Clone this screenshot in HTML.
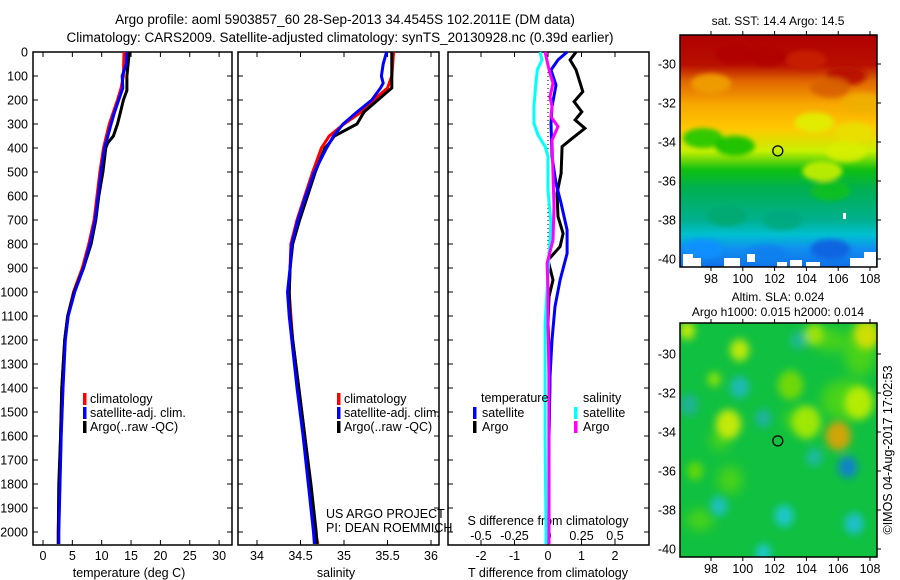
<!DOCTYPE html>
<html><head><meta charset="utf-8">
<style>
html,body{margin:0;padding:0;background:#fff;}
svg{display:block;font-family:"Liberation Sans",sans-serif;}
text{font-size:12.5px;fill:#000;}
</style></head>
<body>
<svg id="chart" width="900" height="580" viewBox="0 0 900 580">
<defs>
<linearGradient id="sstgrad" x1="0" y1="0" x2="0" y2="1">
<stop offset="0" stop-color="#b00000"/>
<stop offset="0.13" stop-color="#b81000"/>
<stop offset="0.2" stop-color="#e06800"/>
<stop offset="0.3" stop-color="#f8a800"/>
<stop offset="0.4" stop-color="#ffc800"/>
<stop offset="0.5" stop-color="#c8f000"/>
<stop offset="0.58" stop-color="#10c010"/>
<stop offset="0.66" stop-color="#00b050"/>
<stop offset="0.8" stop-color="#00b090"/>
<stop offset="0.86" stop-color="#00c0d0"/>
<stop offset="0.92" stop-color="#1090f0"/>
<stop offset="1" stop-color="#1070e8"/>
</linearGradient>
<filter id="blur6" x="-50%" y="-50%" width="200%" height="200%"><feGaussianBlur stdDeviation="6"/></filter>
<filter id="blur3" x="-50%" y="-50%" width="200%" height="200%"><feGaussianBlur stdDeviation="4"/></filter>
<filter id="blur2" x="-50%" y="-50%" width="200%" height="200%"><feGaussianBlur stdDeviation="2.5"/></filter>
<clipPath id="clipTop"><rect x="680" y="35" width="197" height="232"/></clipPath>
<clipPath id="clipBot"><rect x="680" y="323" width="197" height="234"/></clipPath>
</defs>
<g id="titles">
<text x="345" y="24" text-anchor="middle" style="font-size:13.5px">Argo profile: aoml 5903857_60 28-Sep-2013 34.4545S 102.2011E (DM data)</text>
<text x="340" y="42" text-anchor="middle" style="font-size:13.5px">Climatology: CARS2009. Satellite-adjusted climatology: synTS_20130928.nc (0.39d earlier)</text>
</g>
<g id="panels"></g>
<g id="maps"></g>
<text transform="translate(892,450) rotate(-90)" text-anchor="middle" style="font-size:12.5px">©IMOS 04-Aug-2017 17:02:53</text>
</svg>
<script>
// ---------- data ----------
const depthTicks = [0,100,200,300,400,500,600,700,800,900,1000,1100,1200,1300,1400,1500,1600,1700,1800,1900,2000];
const tempTicks = [0,5,10,15,20,25,30];
const salTicks = [34,34.5,35,35.5,36];
const salTickLabels = ["34","34.5","35","35.5","36"];
const tdiffTicks = [-2,-1,0,1,2];
const sdiffTicks = [-0.5,-0.25,0,0.25,0.5];
const sdiffTickLabels = ["-0.5","-0.25","0","0.25","0.5"];

const tClimDepth = [0,100,150,200,250,300,400,500,600,700,800,900,1000,1100,1200,1400,1600,1800,2000,2050];
const tClim      = [13.8,13.7,13.3,12.7,12.0,11.3,10.3,9.7,9.2,8.7,7.8,6.7,5.2,4.2,3.7,3.2,3.0,2.8,2.6,2.6];
const tSatDepth  = [0,50,100,150,200,250,300,400,500,600,700,800,900,1000,1100,1200,1400,1600,1800,2000,2050];
const tSat       = [14.3,14.2,13.5,13.6,12.9,12.2,11.6,10.5,9.9,9.4,8.9,8.0,6.9,5.4,4.3,3.8,3.4,3.1,2.9,2.7,2.7];
const tArgoDepth = [0,50,100,160,200,250,300,350,380,400,500,600,700,800,900,1000,1100,1200,1400,1600,1800,2000,2050];
const tArgo      = [14.7,14.5,14.3,14.3,13.7,13.2,12.7,12.0,11.0,10.7,10.2,9.5,9.0,8.2,6.9,5.3,4.2,3.7,3.2,3.0,2.7,2.6,2.6];

const sClimDepth = [0,100,150,200,250,300,350,400,500,600,700,800,900,1000,1100,1200,1400,1600,1800,2000,2050];
const sClim      = [35.57,35.55,35.50,35.34,35.20,35.00,34.83,34.74,34.64,34.55,34.46,34.39,34.38,34.37,34.39,34.41,34.48,34.55,34.61,34.67,34.70];
const sSatDepth  = [0,50,100,130,150,200,250,300,350,400,500,600,700,800,900,1000,1100,1200,1400,1600,1800,2000,2050];
const sSat       = [35.49,35.45,35.43,35.45,35.42,35.32,35.15,34.99,34.88,34.80,34.66,34.56,34.47,34.40,34.38,34.35,34.37,34.40,34.46,34.53,34.59,34.65,34.66];
const sArgoDepth = [0,150,200,250,300,350,380,400,500,600,700,800,900,1000,1100,1200,1400,1600,1800,2000,2050];
const sArgo      = [35.55,35.55,35.39,35.23,35.15,34.89,34.83,34.78,34.67,34.58,34.49,34.41,34.38,34.37,34.38,34.41,34.48,34.55,34.62,34.68,34.69];

const dTArgoDepth = [0,33,75,165,207,249,283,318,360,394,506,589,686,756,811,867,950,1019,1131,1339,1600,2000,2050];
const dTArgo      = [0.84,0.66,0.84,1.04,0.78,1.01,0.81,1.10,0.72,0.42,0.39,0.27,0.30,0.45,0.36,0.0,0.15,0.03,0.0,0.06,0.03,0.03,0.03];
const dTSatDepth  = [0,33,75,138,228,297,436,547,631,742,839,950,1061,1200,1353,1600,2000,2050];
const dTSat       = [0.57,0.30,0.09,0.24,0.12,0.09,0.12,0.24,0.39,0.57,0.57,0.36,0.21,0.12,0.06,0.03,0.03,0.03];
const dSSatDepth  = [0,33,75,130,228,297,346,394,436,575,714,853,992,1131,1339,1600,2000,2050];
const dSSat       = [-0.06,-0.045,-0.08,-0.09,-0.105,-0.105,-0.075,-0.022,0,0,0.022,0.007,-0.007,-0.022,-0.022,-0.022,-0.015,-0.015];
const dSArgoDepth = [0,55,89,130,186,228,269,311,367,506,644,783,881,992,1131,1339,1600,2000,2050];
const dSArgo      = [-0.022,0,0.015,0.037,0.015,0.03,0.022,0.075,0.03,0.037,0.045,0.037,-0.007,0,0,0.007,0.007,0.007,0.007];

const mapLatTicks = [-30,-32,-34,-36,-38,-40];
const mapLonTicks = [98,100,102,104,106,108];
const floatLon = 102.2011;
const floatLat = -34.4545;
// SLA blobs: lon, lat, radius(deg), colour
const slaBlobLon = [99.8,99.1,106.0,107.3,107.8,104.5,96.5,98.2,103.0,99.8,96.6,101.3,104.5,106.6,98.5,102.6,107.0,101.3,103.5,97.0,104.0];
const slaBlobLat = [-29.8,-33.6,-34.2,-32.5,-29.0,-29.0,-28.8,-31.3,-31.6,-31.7,-32.6,-33.3,-35.3,-35.8,-37.8,-38.3,-38.7,-40.2,-29.3,-36.0,-33.5];
const slaBlobR   = [0.6,0.8,0.8,0.9,0.8,0.6,0.5,0.4,0.8,0.6,0.6,0.5,0.5,0.6,0.55,0.6,0.6,0.5,0.5,0.5,0.9];
const slaBlobC   = ["#d8f000","#e0f000","#f0a000","#c8f000","#e8e000","#b0e800","#d8f000","#a0e800","#80dc00","#20b8c8","#20b0a0","#20b0b0","#20b8b0","#1078e0","#20c0d0","#20c8e0","#20c0e0","#20c8e0","#20b8a0","#70dc00","#b0ec00"];
// SST perturbation blobs (lon, lat, colour)
const sstBlobLon = [99.5,101.5,104.0,106.5,105.5,98.0,104.5,97.5,99.5,106.5,107.0,105.0,99.0,102.5,105.5,97.5,101.5,105.5,107.5];
const sstBlobLat = [-29.5,-29.6,-29.8,-30.6,-31.2,-31.0,-33.0,-33.8,-34.2,-34.5,-33.5,-35.5,-37.8,-38.0,-36.5,-39.5,-39.8,-39.5,-32.0];
const sstBlobC   = ["#b00000","#b00000","#c82000","#b81000","#d86000","#f0a000","#e0f000","#20c800","#10c000","#d8f000","#e8e000","#c8f000","#00a870","#00a880","#10c020","#1090ff","#1080f0","#1060e0","#f0b000"];

// ---------- helpers ----------
const NS = "http://www.w3.org/2000/svg";
function mk(tag, attrs, parent){ const e=document.createElementNS(NS,tag); for(const k in attrs) e.setAttribute(k,attrs[k]); parent.appendChild(e); return e; }
const yTop = 52, yBot = 545;
const yD = d => yTop + d*0.24;
const panelsG = document.getElementById('panels');
const mapsG = document.getElementById('maps');

function drawBox(x0,x1,name,labels){
  const g = mk('g',{},panelsG);
  
  
  const r = mk('rect',{x:x0,y:yTop,width:x1-x0,height:yBot-yTop,fill:'none',stroke:'#000','stroke-width':1.5},g);
  
  
  depthTicks.forEach(d=>{
    const y=yD(d);
    mk('line',{x1:x0,y1:y,x2:x0+5,y2:y,stroke:'#000'},g);
    mk('line',{x1:x1,y1:y,x2:x1-5,y2:y,stroke:'#000'},g);
    if(labels){
      const t = mk('text',{x:x0-5,y:y+4.5,'text-anchor':'end'},g);
      t.textContent = d;
      
      
    }
  });
  return g;
}
function xTicks(g,xs,labs,ylab){
  xs.forEach((x,i)=>{
    mk('line',{x1:x,y1:yBot,x2:x,y2:yBot-5,stroke:'#000'},g);
    mk('line',{x1:x,y1:yTop,x2:x,y2:yTop+5,stroke:'#000'},g);
    if(labs){
      const t = mk('text',{x:x,y:ylab,'text-anchor':'middle'},g);
      t.textContent = labs[i];
      
      
    }
  });
}
function line(g,depths,vals,xf,color,w,name){
  const pts = depths.map((d,i)=> xf(vals[i]).toFixed(1)+','+yD(d).toFixed(1)).join(' ');
  const p = mk('polyline',{points:pts,fill:'none',stroke:color,'stroke-width':w,'stroke-linejoin':'miter'},g);
  
  
  return p;
}
function txt(g,x,y,s,anchor,name,size){
  const t = mk('text',{x:x,y:y,'text-anchor':anchor||'start'},g);
  if(size) t.style.fontSize=size+'px';
  t.textContent = s;
  
  
  return t;
}
function legendMark(g,x,y,color,name){
  const r = mk('rect',{x:x,y:y-6,width:3.5,height:12,fill:color},g);
  
  
}

// ---------- panel 1: temperature ----------
const xT = v => 43 + 5.87*v;
const g1 = drawBox(33,232,'temperature-panel',true);
xTicks(g1,tempTicks.map(xT),tempTicks,560);
txt(g1,129,577,'temperature (deg C)','middle','temperature-axis-title');
line(g1,tClimDepth,tClim,xT,'#ff0000',3,'temperature-climatology-line');
line(g1,tSatDepth,tSat,xT,'#0000ff',3,'temperature-satellite-line');
line(g1,tArgoDepth,tArgo,xT,'#000000',3,'temperature-argo-line');
line(g1,tSatDepth,tSat,xT,'#0000ff',2.5,'temperature-satellite-line-top');
legendMark(g1,83,399,'#ff0000','legend-climatology-marker'); txt(g1,90,403,'climatology','start','legend-climatology');
legendMark(g1,83,413,'#0000ff','legend-satellite-marker'); txt(g1,90,417,'satellite-adj. clim.','start','legend-satellite');
legendMark(g1,83,427,'#000000','legend-argo-marker'); txt(g1,90,431,'Argo(..raw -QC)','start','legend-argo');

// ---------- panel 2: salinity ----------
const xS = v => 257 + 87*(v-34);
const g2 = drawBox(238,439,'salinity-panel',false);
xTicks(g2,salTicks.map(xS),salTickLabels,560);
txt(g2,336,577,'salinity','middle','salinity-axis-title');
line(g2,sClimDepth,sClim,xS,'#ff0000',3,'salinity-climatology-line');
line(g2,sArgoDepth,sArgo,xS,'#000000',3,'salinity-argo-line');
line(g2,sSatDepth,sSat,xS,'#0000ff',3,'salinity-satellite-line');
legendMark(g2,337,399,'#ff0000','legend-climatology-marker'); txt(g2,344,403,'climatology','start','legend-climatology');
legendMark(g2,337,413,'#0000ff','legend-satellite-marker'); txt(g2,344,417,'satellite-adj. clim.','start','legend-satellite');
legendMark(g2,337,427,'#000000','legend-argo-marker'); txt(g2,344,431,'Argo(..raw -QC)','start','legend-argo');
txt(g2,326,518,'US ARGO PROJECT','start','project-label');
txt(g2,326,532,'PI: DEAN ROEMMICH','start','pi-label');

// ---------- panel 3: differences ----------
const xdT = v => 548 + 33.5*v;
const xdS = v => 548 + 134*v;
const g3 = drawBox(448,649,'difference-panel',false);
xTicks(g3,tdiffTicks.map(xdT),tdiffTicks,560);
sdiffTicks.forEach((v,i)=>{ txt(g3,xdS(v),540,sdiffTickLabels[i],'middle','s-diff-tick-label'); });
txt(g3,548,525,'S difference from climatology','middle','s-difference-axis-title');
txt(g3,548,577,'T difference from climatology','middle','t-difference-axis-title');
const zl = mk('line',{x1:548,y1:yTop,x2:548,y2:yD(1100),stroke:'#000','stroke-dasharray':'1,3'},g3);
 
line(g3,dTArgoDepth,dTArgo,xdT,'#000000',3,'t-diff-argo-line');
line(g3,dTSatDepth,dTSat,xdT,'#0000ff',3,'t-diff-satellite-line');
line(g3,dSSatDepth,dSSat,xdS,'#00ffff',3,'s-diff-satellite-line');
line(g3,dSArgoDepth,dSArgo,xdS,'#ff00ff',3,'s-diff-argo-line');
txt(g3,481,402,'temperature','start','legend-temperature-heading');
txt(g3,583,402,'salinity','start','legend-salinity-heading');
legendMark(g3,473,413,'#0000ff','legend-t-satellite-marker'); txt(g3,482,417,'satellite','start','legend-t-satellite');
legendMark(g3,473,427,'#000000','legend-t-argo-marker'); txt(g3,482,431,'Argo','start','legend-t-argo');
legendMark(g3,574,413,'#00ffff','legend-s-satellite-marker'); txt(g3,583,417,'satellite','start','legend-s-satellite');
legendMark(g3,574,427,'#ff00ff','legend-s-argo-marker'); txt(g3,583,431,'Argo','start','legend-s-argo');

// ---------- maps ----------
const xLon = lon => 711 + (lon-98)*15.9;
function drawMap(y0,h,yLat30,clip,name){
  const yLat = lat => yLat30 + (-30-lat)*19.5;
  const g = mk('g',{},mapsG);
  
  
  const inner = mk('g',{'clip-path':'url(#'+clip+')'},g);
  return {g,inner,yLat,y0,h};
}
function mapFrame(m){
  const {g,yLat,y0,h} = m;
  const r = mk('rect',{x:680,y:y0,width:197,height:h,fill:'none',stroke:'#000','stroke-width':1.5},g);
   
  mapLatTicks.forEach(l=>{
    const y=yLat(l);
    mk('line',{x1:877,y1:y,x2:881,y2:y,stroke:'#000'},g);
    txt(g,676,y+4.5,String(l),'end','map-lat-label');
  });
  mapLonTicks.forEach(l=>{
    const x=xLon(l);
    mk('line',{x1:x,y1:y0,x2:x,y2:y0-4,stroke:'#000'},g);
    mk('line',{x1:x,y1:y0+h,x2:x,y2:y0+h+4,stroke:'#000'},g);
    txt(g,x,y0+h+16,String(l),'middle','map-lon-label');
  });
  const c = mk('circle',{cx:xLon(floatLon),cy:yLat(floatLat),r:5,fill:'none',stroke:'#000','stroke-width':1.3},g);
   
}
// SST map
const m1 = drawMap(35,232,64,'clipTop','sst-map');
const bg1 = mk('rect',{x:680,y:35,width:197,height:232,fill:'url(#sstgrad)'},m1.inner);
 
const sb = mk('g',{filter:'url(#blur2)'},m1.inner);
sstBlobLon.forEach((lon,i)=>{
  const e = mk('ellipse',{cx:xLon(lon),cy:m1.yLat(sstBlobLat[i]),rx:20,ry:10,fill:sstBlobC[i],opacity:0.9},sb);
   
});
// white (missing data) patches at bottom
[[683,254,10,13],[689,258,12,9],[724,258,16,9],[747,254,8,8],[777,262,10,5],[790,260,12,7],[806,262,14,5],[850,258,26,9],[864,252,12,8],[843,213,3,6]].forEach(p=>{
  const w = mk('rect',{x:p[0],y:p[1],width:p[2],height:p[3],fill:'#fff'},m1.inner);
   
});
txt(m1.g,778,25,'sat. SST: 14.4 Argo: 14.5','middle','sst-map-title',12);
mapFrame(m1);

// SLA map
const m2 = drawMap(323,234,354,'clipBot','sla-map');
const bg2 = mk('rect',{x:680,y:323,width:197,height:234,fill:'#10c040'},m2.inner);
 
const lg = mk('g',{filter:'url(#blur6)',opacity:0.6},m2.inner);
[[700,520,14,10],[730,480,12,14],[800,420,16,10],[845,400,24,20],[860,350,16,26],[720,440,10,10],[830,340,14,12]].forEach(p=>{
  mk('ellipse',{cx:p[0],cy:p[1],rx:p[2],ry:p[3],fill:'#70e000'},lg);
});
const bb = mk('g',{filter:'url(#blur3)'},m2.inner);
slaBlobLon.forEach((lon,i)=>{
  const r = slaBlobR[i]*15.9;
  const e = mk('ellipse',{cx:xLon(lon),cy:m2.yLat(slaBlobLat[i]),rx:r,ry:r*1.15,fill:slaBlobC[i],opacity:0.85},bb);
   
});
txt(m2.g,778,301,'Altim. SLA: 0.024','middle','sla-map-title',12);
txt(m2.g,778,316,'Argo h1000: 0.015 h2000: 0.014','middle','sla-map-subtitle',12);
mapFrame(m2);
</script>
</body></html>
